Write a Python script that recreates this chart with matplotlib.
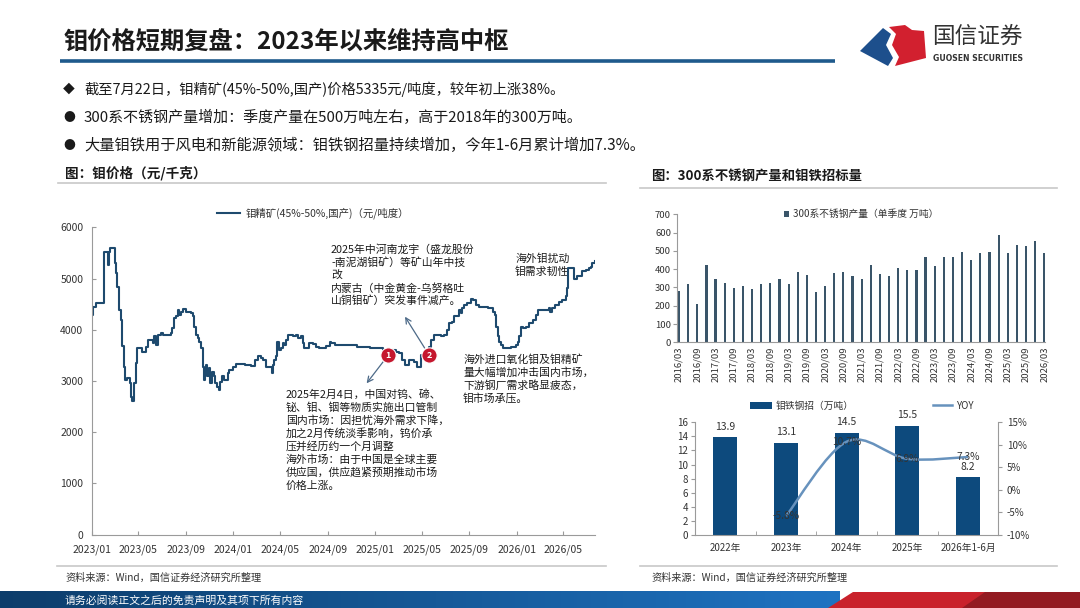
import numpy as np
import pandas as pd
import matplotlib
matplotlib.use('Agg')
import matplotlib.pyplot as plt
import matplotlib.dates as mdates
from matplotlib.patches import Polygon, Rectangle, PathPatch
from matplotlib.path import Path
from matplotlib.lines import Line2D
from matplotlib.ticker import FuncFormatter

plt.rcParams['font.family'] = ['Noto Sans CJK SC', 'DejaVu Sans']
plt.rcParams['axes.unicode_minus'] = False

# ---- 钼精矿价格（元/吨度）----
price_dates = [
    '2023-01-03', '2023-01-05', '2023-01-12', '2023-01-31', '2023-02-02', '2023-02-09',
    '2023-02-11', '2023-02-14', '2023-02-16', '2023-02-27', '2023-03-01', '2023-03-04',
    '2023-03-08', '2023-03-13', '2023-03-17', '2023-03-21', '2023-03-26', '2023-03-28',
    '2023-04-03', '2023-04-09', '2023-04-12', '2023-04-16', '2023-04-20', '2023-04-25',
    '2023-04-27', '2023-05-03', '2023-05-11', '2023-05-22', '2023-05-27', '2023-06-03',
    '2023-06-07', '2023-06-11', '2023-06-16', '2023-06-20', '2023-06-29', '2023-07-03',
    '2023-07-24', '2023-07-28', '2023-08-02', '2023-08-07', '2023-08-11', '2023-08-15',
    '2023-08-19', '2023-08-24', '2023-09-02', '2023-09-15', '2023-09-19', '2023-09-23',
    '2023-09-28', '2023-10-02', '2023-10-06', '2023-10-10', '2023-10-14', '2023-10-17',
    '2023-10-20', '2023-10-23', '2023-10-26', '2023-10-30', '2023-11-03', '2023-11-08',
    '2023-11-12', '2023-11-16', '2023-11-20', '2023-11-25', '2023-11-29', '2023-12-03',
    '2023-12-08', '2023-12-18', '2023-12-22', '2023-12-31', '2024-01-09', '2024-01-31',
    '2024-02-17', '2024-02-26', '2024-03-04', '2024-03-12', '2024-03-17', '2024-03-25',
    '2024-04-09', '2024-04-12', '2024-04-16', '2024-04-21', '2024-04-23', '2024-04-27',
    '2024-05-03', '2024-05-08', '2024-05-12', '2024-05-16', '2024-05-20', '2024-06-03',
    '2024-06-11', '2024-06-15', '2024-06-24', '2024-06-28', '2024-07-02', '2024-07-11',
    '2024-07-15', '2024-07-24', '2024-08-02', '2024-08-10', '2024-08-28', '2024-09-06',
    '2024-09-10', '2024-09-19', '2024-10-01', '2024-10-27', '2024-11-14', '2024-12-18',
    '2025-01-21', '2025-02-25', '2025-03-04', '2025-03-12', '2025-03-19', '2025-03-29',
    '2025-04-12', '2025-04-18', '2025-04-29', '2025-05-16', '2025-05-20', '2025-05-24',
    '2025-06-02', '2025-06-20', '2025-06-28', '2025-07-06', '2025-07-11', '2025-07-19',
    '2025-07-24', '2025-08-01', '2025-08-06', '2025-08-10', '2025-08-14', '2025-08-19',
    '2025-08-27', '2025-09-05', '2025-09-10', '2025-09-18', '2025-09-27', '2025-10-18',
    '2025-11-01', '2025-11-05', '2025-11-09', '2025-11-13', '2025-11-17', '2025-11-22',
    '2025-11-26', '2025-12-17', '2025-12-31', '2026-01-04', '2026-01-08', '2026-01-13',
    '2026-01-17', '2026-01-25', '2026-02-03', '2026-02-12', '2026-02-21', '2026-02-25',
    '2026-03-25', '2026-03-29', '2026-04-03', '2026-04-11', '2026-04-20', '2026-04-28',
    '2026-05-07', '2026-05-11', '2026-05-13', '2026-05-19', '2026-05-28', '2026-06-06',
    '2026-06-19', '2026-06-28', '2026-07-06', '2026-07-11', '2026-07-15', '2026-07-22',
]
price_values = [
    4290, 4440, 4520, 4520, 5510, 5510, 5265, 5510, 5590, 5590, 5300, 5100,
    4840, 4390, 4200, 3680, 3280, 3020, 3050, 2960, 2690, 2600, 2960, 3350,
    3650, 3650, 3560, 3670, 3810, 3810, 3740, 3870, 3700, 3900, 3930, 3900,
    3930, 4030, 4220, 4260, 4390, 4290, 4350, 4400, 4350, 4320, 4260, 4060,
    3900, 3830, 3770, 3640, 3280, 3020, 3150, 3310, 3090, 3250, 2960, 3180,
    3090, 2960, 2890, 2830, 2990, 3090, 3020, 3150, 3220, 3280, 3330, 3310,
    3300, 3410, 3480, 3440, 3410, 3280, 3150, 3310, 3410, 3480, 3770, 3610,
    3640, 3740, 3700, 3800, 3900, 3880, 3900, 3830, 3870, 3740, 3640, 3640,
    3740, 3720, 3670, 3640, 3680, 3770, 3740, 3700, 3700, 3700, 3670, 3640,
    3610, 3570, 3540, 3410, 3310, 3410, 3380, 3280, 3510, 3540, 3660, 3800,
    3900, 3870, 3900, 4000, 4130, 4160, 4260, 4260, 4390, 4320, 4420, 4480,
    4520, 4610, 4580, 4480, 4440, 4420, 4350, 4290, 4060, 3870, 3770, 3700,
    3640, 3670, 3700, 3770, 3870, 4060, 4030, 4060, 4130, 4190, 4290, 4390,
    4420, 4350, 4420, 4480, 4550, 4580, 4650, 4810, 5200, 5200, 4990, 5050,
    5140, 5170, 5200, 5230, 5300, 5335,
]
event_dates = ['2025-02-04', '2025-05-20']
event_values = [3507, 3507]
event_labels = ['1', '2']

# ---- 300系不锈钢产量（单季度，万吨）----
quarters = list(pd.date_range('2016-03-01', '2026-03-01', freq='3MS').strftime('%Y/%m'))
stainless = [283, 319, 210, 423, 345, 325, 295, 308, 293, 317, 325, 345,
             317, 385, 366, 275, 308, 379, 385, 361, 345, 423, 374, 361,
             405, 394, 394, 469, 416, 467, 469, 496, 450, 487, 496, 589,
             490, 534, 529, 552, 487]

# ---- 钼铁钢招 ----
years = ['2022年', '2023年', '2024年', '2025年', '2026年1-6月']
moly_bid = [13.9, 13.1, 14.5, 15.5, 8.2]
yoy = [None, -5.8, 10.7, 6.9, 7.3]

W, H = 1080, 608
fig = plt.figure(figsize=(W / 100, H / 100), dpi=100)


def box(x0, y0, x1, y1):
    return [x0 / W, 1 - y1 / H, (x1 - x0) / W, (y1 - y0) / H]


# decoration layer in pixel coordinates
deco = fig.add_axes([0, 0, 1, 1], zorder=0)
deco.set_xlim(0, W)
deco.set_ylim(H, 0)
deco.axis('off')

deco.text(64, 42, '钼价格短期复盘：2023年以来维持高中枢', fontsize=17.5,
          fontweight='bold', va='center', color='#1a1a1a')
deco.plot([60, 835], [61, 61], color='#1f5a8c', lw=2.6, solid_capstyle='butt')

# logo
deco.add_patch(Polygon([(860, 51), (883, 28), (891, 34), (886, 45), (893, 58), (888, 66)],
                       closed=True, fc='#1d4f8c', ec='none'))
deco.add_patch(Polygon([(889, 27), (905, 25), (912, 30), (924, 31), (926, 58), (895, 66),
                        (899, 57), (892, 45), (896, 34)], closed=True, fc='#d2202f', ec='none'))
deco.text(932, 36, '国信证券', fontsize=16.3, va='center', color='#333333')
deco.text(933, 58.5, 'GUOSEN SECURITIES', fontsize=5.6, fontweight='bold', va='center',
          color='#333333', family='DejaVu Sans')

bullets = [('◆', '截至7月22日，钼精矿(45%-50%,国产)价格5335元/吨度，较年初上涨38%。', 89, 10.3),
           ('●', '300系不锈钢产量增加：季度产量在500万吨左右，高于2018年的300万吨。', 117, 10.8),
           ('●', '大量钼铁用于风电和新能源领域：钼铁钢招量持续增加，今年1-6月累计增加7.3%。', 145, 11.0)]
for mark, txt, y, fs in bullets:
    deco.text(69, y, mark, fontsize=8.5, va='center', ha='center', color='#1a1a1a')
    deco.text(84, y, txt, fontsize=fs, va='center', color='#1a1a1a')

deco.text(65, 173, '图：钼价格（元/千克）', fontsize=9.8, fontweight='bold', va='center', color='#1a1a1a')
deco.plot([58, 606], [183, 183], color='#c8c8c8', lw=1.2)
deco.text(651, 176, '图：300系不锈钢产量和钼铁招标量', fontsize=9.6, fontweight='bold', va='center',
          color='#1a1a1a')
deco.plot([640, 1057], [187.5, 187.5], color='#c8c8c8', lw=1.2)

deco.plot([57, 606], [566, 566], color='#c8c8c8', lw=1.2)
deco.plot([640, 1057], [566, 566], color='#c8c8c8', lw=1.2)
deco.text(65, 577.5, '资料来源：Wind，国信证券经济研究所整理', fontsize=7.3, va='center', color='#333333')
deco.text(651, 577.5, '资料来源：Wind，国信证券经济研究所整理', fontsize=7.3, va='center', color='#333333')

# footer band
grad = np.linspace(0, 1, 256)
c0 = np.array([0.05, 0.24, 0.42])
c1 = np.array([0.12, 0.45, 0.76])
band = (c0[None, :] * (1 - grad[:, None]) + c1[None, :] * grad[:, None])[None, :, :]
deco.imshow(band, extent=[0, 840, 608, 591.5], aspect='auto', zorder=1)
deco.add_patch(Polygon([(853, 591.5), (W, 591.5), (W, 608), (828, 608)], closed=True,
                       fc='#c9222c', ec='none', zorder=2))
deco.add_patch(Polygon([(985, 591.5), (W, 591.5), (W, 608), (962, 608)], closed=True,
                       fc='#931b22', ec='none', zorder=3))
deco.set_xlim(0, W)
deco.set_ylim(H, 0)
deco.text(65, 600, '请务必阅读正文之后的免责声明及其项下所有内容', fontsize=7.8, va='center',
          color='white', zorder=4)

# annotation texts for the price chart
notes = [
    (286, 389, '2025年2月4日，中国对钨、碲、\n铋、钼、铟等物质实施出口管制\n国内市场：因担忧海外需求下降，\n'
               '加之2月传统淡季影响，钨价承\n压并经历约一个月调整\n海外市场：由于中国是全球主要\n'
               '供应国，供应趋紧预期推动市场\n价格上涨。'),
    (331, 244, '2025年中河南龙宇（盛龙股份\n-南泥湖钼矿）等矿山年中技\n改\n内蒙古（中金黄金-乌努格吐\n山铜钼矿）突发事件减产。'),
    (463, 354, '海外进口氧化钼及钼精矿\n量大幅增加冲击国内市场，\n下游钢厂需求略显疲态，\n钼市场承压。'),
    (515, 253, '海外钼扰动\n钼需求韧性'),
]

# ---- 左图：钼精矿价格 ----
ax1 = fig.add_axes(box(91.7, 227.3, 595, 534.7), zorder=2)
ax1.patch.set_alpha(0)
d = pd.to_datetime(price_dates)
ax1.plot(d, price_values, color='#1e4a6e', lw=1.5, drawstyle='steps-post',
         label='钼精矿(45%-50%,国产)（元/吨度）')
ax1.set_ylim(0, 6000)
ax1.set_yticks(range(0, 6001, 1000))
ax1.set_xlim(pd.Timestamp('2023-01-01'), pd.Timestamp('2026-07-22'))
ax1.xaxis.set_major_locator(mdates.MonthLocator(bymonth=[1, 5, 9]))
ax1.xaxis.set_major_formatter(mdates.DateFormatter('%Y/%m'))
for s in ['top', 'right']:
    ax1.spines[s].set_visible(False)
for s in ['left', 'bottom']:
    ax1.spines[s].set_color('#9a9a9a')
    ax1.spines[s].set_linewidth(0.8)
ax1.tick_params(direction='in', length=3, color='#9a9a9a', labelsize=7.5, labelcolor='#333333')
ax1.tick_params(axis='y', pad=6)
ax1.tick_params(axis='x', pad=7)
ax1.legend(loc='center', bbox_to_anchor=(0.44, 1.045), frameon=False, fontsize=7.5,
           handlelength=2.2, handletextpad=0.5, labelcolor='#333333')

ed = pd.to_datetime(event_dates)
arrow_tips = [(pd.Timestamp('2024-12-10'), 2955), (pd.Timestamp('2025-03-19'), 4255)]
for (xd, yv), tip in zip(zip(ed, event_values), arrow_tips):
    ax1.annotate('', xy=tip, xytext=(xd, yv),
                 arrowprops=dict(arrowstyle='->', color='#4d6a88', lw=0.9, shrinkA=6, shrinkB=0))
for xd, yv, lab in zip(ed, event_values, event_labels):
    ax1.plot(xd, yv, 'o', ms=11, color='#c5172e', mec='white', mew=0.8, zorder=5)
    ax1.text(xd, yv, lab, ha='center', va='center', fontsize=6.5, fontweight='bold',
             color='white', zorder=6)

for x, y, t in notes:
    deco.text(x, y, t, fontsize=7.8, va='top', ha='left', linespacing=1.27, color='#1a1a1a', zorder=5)

# ---- 右上：300系不锈钢产量 ----
ax2 = fig.add_axes(box(677.3, 214.3, 1045, 342.3), zorder=2)
ax2.patch.set_alpha(0)
xq = np.arange(len(stainless))
ax2.bar(xq, stainless, width=0.24, color='#3a5569', label='300系不锈钢产量（单季度 万吨）')
ax2.set_xlim(-0.19, 40.08)
ax2.set_ylim(0, 700)
ax2.set_yticks(range(0, 701, 100))
ax2.set_xticks(xq[::2])
ax2.set_xticklabels(quarters[::2], rotation=90)
for s in ['top', 'right']:
    ax2.spines[s].set_visible(False)
for s in ['left', 'bottom']:
    ax2.spines[s].set_color('#9a9a9a')
    ax2.spines[s].set_linewidth(0.8)
ax2.tick_params(axis='y', direction='out', length=3, color='#9a9a9a', labelsize=6.8,
                labelcolor='#333333', pad=1.5)
ax2.tick_params(axis='x', length=0, labelsize=6.8, labelcolor='#333333', pad=3)
ax2.legend(loc='center', bbox_to_anchor=(0.5, 1.0), frameon=False, fontsize=7,
           handlelength=0.6, handleheight=0.6, handletextpad=0.4, labelcolor='#333333')

# ---- 右下：钼铁钢招 ----
ax3 = fig.add_axes(box(695, 422.3, 998.3, 535), zorder=2)
ax3.patch.set_alpha(0)
xb = np.arange(len(years))
ax3.bar(xb, moly_bid, width=0.4, color='#0d4a7d')
for xi, v in zip(xb, moly_bid):
    ax3.annotate(f'{v:.1f}', (xi, v), xytext=(0, 4), textcoords='offset points',
                 ha='center', va='bottom', fontsize=7.5, color='#333333')
ax3.set_xlim(-0.5, len(years) - 0.5)
ax3.set_ylim(0, 16)
ax3.set_yticks(range(0, 17, 2))
ax3.set_xticks(xb)
ax3.set_xticklabels(years)
ax3.set_xticks(xb[:-1] + 0.5, minor=True)
for s in ['top', 'right']:
    ax3.spines[s].set_visible(False)
for s in ['left', 'bottom']:
    ax3.spines[s].set_color('#9a9a9a')
    ax3.spines[s].set_linewidth(0.8)
ax3.tick_params(axis='y', direction='out', length=3, color='#9a9a9a', labelsize=7,
                labelcolor='#333333', pad=2)
ax3.tick_params(axis='x', which='major', length=0, labelsize=7, labelcolor='#333333', pad=6)
ax3.tick_params(axis='x', which='minor', direction='in', length=3, color='#9a9a9a')

ax4 = ax3.twinx()
ax4.patch.set_alpha(0)
ax4.set_ylim(-10, 15)
ax4.set_yticks(range(-10, 16, 5))
ax4.yaxis.set_major_formatter(FuncFormatter(lambda v, p: f'{v:.0f}%'))
for s in ['top', 'left', 'bottom']:
    ax4.spines[s].set_visible(False)
ax4.spines['right'].set_color('#9a9a9a')
ax4.spines['right'].set_linewidth(0.8)
ax4.tick_params(axis='y', direction='out', length=3, color='#9a9a9a', labelsize=7,
                labelcolor='#333333', pad=3)

# smoothed YOY line (Catmull-Rom through the yearly points)
pts = np.array([[xi, v] for xi, v in zip(xb, yoy) if v is not None], dtype=float)
verts = [pts[0]]
codes = [Path.MOVETO]
for i in range(len(pts) - 1):
    p0 = pts[i - 1] if i > 0 else pts[i]
    p1, p2 = pts[i], pts[i + 1]
    p3 = pts[i + 2] if i + 2 < len(pts) else pts[i + 1]
    verts += [p1 + (p2 - p0) / 6, p2 - (p3 - p1) / 6, p2]
    codes += [Path.CURVE4] * 3
ax4.add_patch(PathPatch(Path(verts, codes), fill=False, ec='#6792bd', lw=1.8))
for xi, v in pts:
    ax4.text(xi, v, f'{v:.1f}%', ha='center', va='center', fontsize=7.3, color='#333333')

fig.legend(handles=[Rectangle((0, 0), 1, 1, fc='#0d4a7d')], labels=['钼铁钢招（万吨）'],
           loc='center left', bbox_to_anchor=(745 / W, 1 - 405.7 / H), frameon=False,
           fontsize=7, handlelength=2.3, handleheight=0.8, handletextpad=0.4, borderpad=0,
           labelcolor='#333333')
fig.legend(handles=[Line2D([0], [0], color='#6792bd', lw=1.8)], labels=['YOY'],
           loc='center left', bbox_to_anchor=(928 / W, 1 - 405.7 / H), frameon=False,
           fontsize=7, handlelength=2.0, handletextpad=0.4, borderpad=0, labelcolor='#333333')

fig.savefig('out.png', dpi=100)
